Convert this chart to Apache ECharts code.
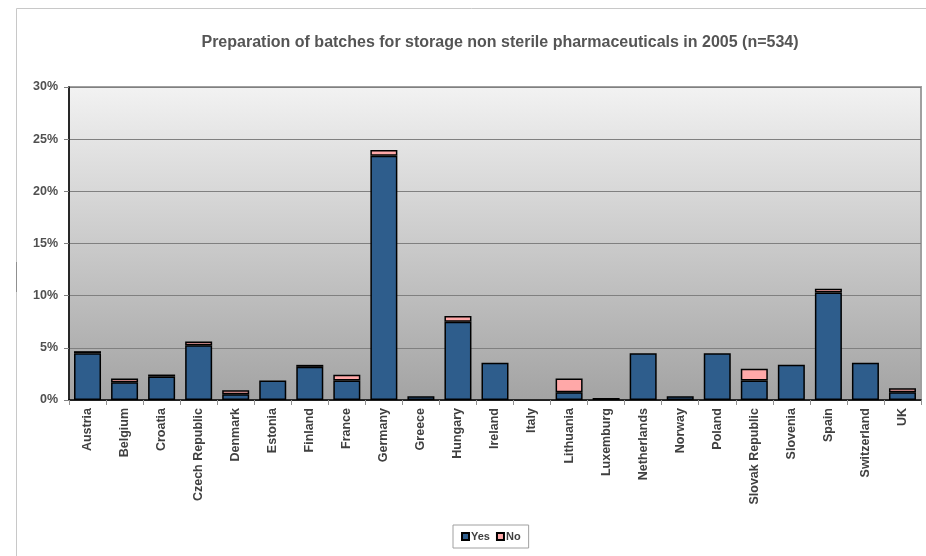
<!DOCTYPE html>
<html>
<head>
<meta charset="utf-8">
<script src="https://cdn.jsdelivr.net/npm/echarts@6/dist/echarts.min.js"></script>
<style>
html,body{margin:0;padding:0;background:#fff;}
#c{width:926px;height:556px;}
</style>
</head>
<body>
<div id="c"></div>
<script>
const titleText = 'Preparation of batches for storage non sterile pharmaceuticals in 2005 (n=534)';
const categories = ['Austria','Belgium','Croatia','Czech Republic','Denmark','Estonia','Finland','France','Germany','Greece','Hungary','Ireland','Italy','Lithuania','Luxemburg','Netherlands','Norway','Poland','Slovak Republic','Slovenia','Spain','Switzerland','UK'];
const yesValues = [4.49,1.69,2.25,5.24,0.56,1.87,3.18,1.87,23.41,0.37,7.49,3.56,null,0.75,0.19,4.49,0.37,4.49,1.87,3.37,10.30,3.56,0.75];
const noValues  = [0.19,0.37,0.19,0.37,0.37,null,0.19,0.56,0.56,null,0.56,null,null,1.31,null,null,null,null,1.12,null,0.37,null,0.37];
const seriesNames = ['Yes','No'];
const yTicks = {min:0, max:30, interval:5};

const chart = echarts.init(document.getElementById('c'), null, {renderer:'canvas'});
const font = '"Liberation Sans", Arial, sans-serif';
chart.setOption({
  backgroundColor:'#ffffff',
  animation:false,
  title:{
    text:titleText, left:495, top:30, textAlign:'center',
    textStyle:{fontFamily:font, fontSize:16, fontWeight:'bold', color:'#555555'}
  },
  graphic:[
    {type:'line', shape:{x1:16.5,y1:8.5,x2:926,y2:8.5}, style:{stroke:'#c8c8c8', lineWidth:1}},
    {type:'line', shape:{x1:16.5,y1:8.5,x2:16.5,y2:556}, style:{stroke:'#c8c8c8', lineWidth:1}},
    {type:'line', shape:{x1:16.5,y1:262,x2:16.5,y2:292}, style:{stroke:'#909090', lineWidth:1}}
  ],
  legend:{
    data:seriesNames, left:453, top:525, orient:'horizontal',
    itemWidth:7, itemHeight:7, itemGap:6,
    padding:[6,8,6,8], borderColor:'#a0a0a0', borderWidth:1,
    textStyle:{fontFamily:font, fontSize:11, fontWeight:'bold', color:'#404040', padding:[0,0,0,-3]},
    icon:'rect'
  },
  grid:{
    left:69, top:87, right:5, bottom:156, show:true,
    backgroundColor:new echarts.graphic.LinearGradient(0,0,0,1,[{offset:0,color:'#f2f2f2'},{offset:1,color:'#a3a3a3'}]),
    borderColor:'#a0a0a0', borderWidth:2
  },
  xAxis:{
    type:'category', data:categories,
    axisLine:{show:true, lineStyle:{color:'#000', width:1.5}},
    axisTick:{show:true, alignWithLabel:false, interval:0, length:5, lineStyle:{color:'#909090'}},
    axisLabel:{interval:0, rotate:90, margin:8, fontFamily:font, fontSize:12.5, fontWeight:'bold', color:'#404040'}
  },
  yAxis:{
    type:'value', min:yTicks.min, max:yTicks.max, interval:yTicks.interval,
    axisLine:{show:true, lineStyle:{color:'#000', width:1.5}},
    axisTick:{show:true, length:5, lineStyle:{color:'#808080'}},
    axisLabel:{formatter:'{value}%', margin:11, fontFamily:font, fontSize:12.5, fontWeight:'bold', color:'#505050'},
    splitLine:{show:true, lineStyle:{color:'#808080', width:1}}
  },
  series:[
    {name:seriesNames[0], type:'bar', stack:'s', data:yesValues, barWidth:27,
     itemStyle:{color:'#2e5d8c', borderColor:'#000', borderWidth:1.5}},
    {name:seriesNames[1], type:'bar', stack:'s', data:noValues, barWidth:27,
     itemStyle:{color:'#ffa8a8', borderColor:'#000', borderWidth:1.5}}
  ]
});
</script>
</body>
</html>
